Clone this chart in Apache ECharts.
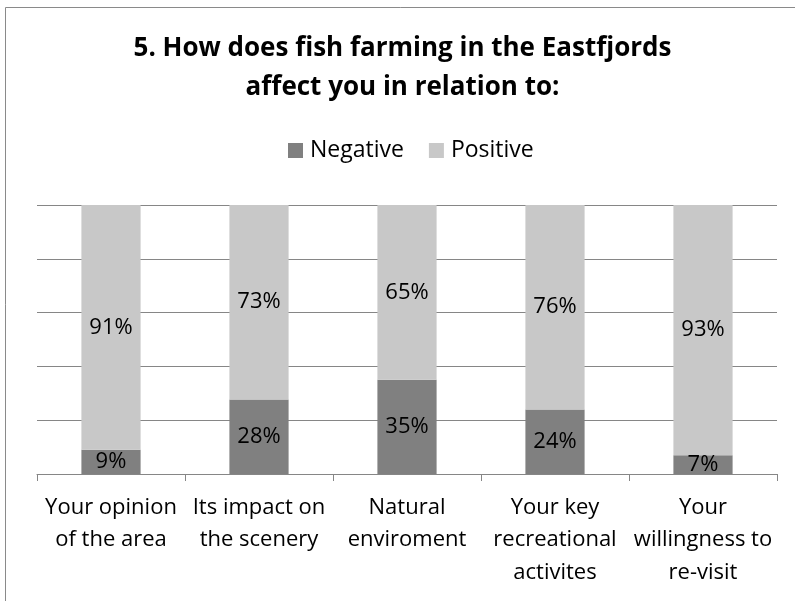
<!DOCTYPE html>
<html>
<head>
<meta charset="utf-8">
<script src="https://cdn.jsdelivr.net/npm/echarts@6/dist/echarts.min.js"></script>
<style>
html,body{margin:0;padding:0;background:#fff;}
#chart{width:795px;height:601px;}
</style>
</head>
<body>
<div id="chart"></div>
<script>
const titleText = '5. How does fish farming in the Eastfjords\naffect you in relation to:';
const categories = ['Your opinion\nof the area', 'Its impact on\nthe scenery', 'Natural\nenviroment', 'Your key\nrecreational\nactivites', 'Your\nwillingness to\nre-visit'];
const seriesNames = ['Negative', 'Positive'];
const negative = [9, 28, 35, 24, 7];
const positive = [91, 73, 65, 76, 93];

const FONT = '"Open Sans"';
const totals = negative.map((v, i) => v + positive[i]);
function toShare(arr) {
  return arr.map((v, i) => ({ value: v / totals[i] * 100, raw: v }));
}

const chart = echarts.init(document.getElementById('chart'));
chart.setOption({
  animation: false,
  backgroundColor: '#fff',
  title: {
    text: titleText,
    left: 402.5, textAlign: 'center',
    top: 29, padding: 0,
    textStyle: { fontFamily: FONT, fontWeight: 'bold', fontSize: 26, lineHeight: 39, color: '#000' }
  },
  legend: {
    data: seriesNames,
    top: 138.5, left: 288, padding: 0,
    itemWidth: 15, itemHeight: 15, itemGap: 25,
    icon: 'rect',
    textStyle: { fontFamily: FONT, fontSize: 23, lineHeight: 24, color: '#000', padding: [0, 0, 0, 2] }
  },
  grid: { left: 37, right: 18, top: 205, bottom: 127, containLabel: false },
  xAxis: {
    type: 'category',
    data: categories,
    axisLine: { lineStyle: { color: '#868686', width: 1 } },
    axisTick: { show: true, length: 7, lineStyle: { color: '#868686' } },
    axisLabel: { fontFamily: FONT, fontSize: 22, color: '#000', lineHeight: 32.5, margin: 17, interval: 0 }
  },
  yAxis: {
    type: 'value', min: 0, max: 100, interval: 20,
    axisLine: { show: false }, axisTick: { show: false }, axisLabel: { show: false },
    splitLine: { lineStyle: { color: '#868686', width: 1 } }
  },
  graphic: [{
    type: 'rect', shape: { x: 5.5, y: 7.5, width: 1000, height: 1000 },
    style: { fill: 'none', stroke: '#8a8a8a', lineWidth: 1 }, silent: true
  }],
  series: [
    {
      name: seriesNames[0], type: 'bar', stack: 'total', barWidth: '40%',
      data: toShare(negative),
      itemStyle: { color: '#808080' },
      label: { show: true, position: 'inside', fontFamily: FONT, fontSize: 22, color: '#000',
        formatter: p => p.data.raw + '%' }
    },
    {
      name: seriesNames[1], type: 'bar', stack: 'total', barWidth: '40%',
      data: toShare(positive),
      itemStyle: { color: '#c8c8c8' },
      label: { show: true, position: 'inside', fontFamily: FONT, fontSize: 22, color: '#000',
        formatter: p => p.data.raw + '%' }
    }
  ]
});
</script>
</body>
</html>
